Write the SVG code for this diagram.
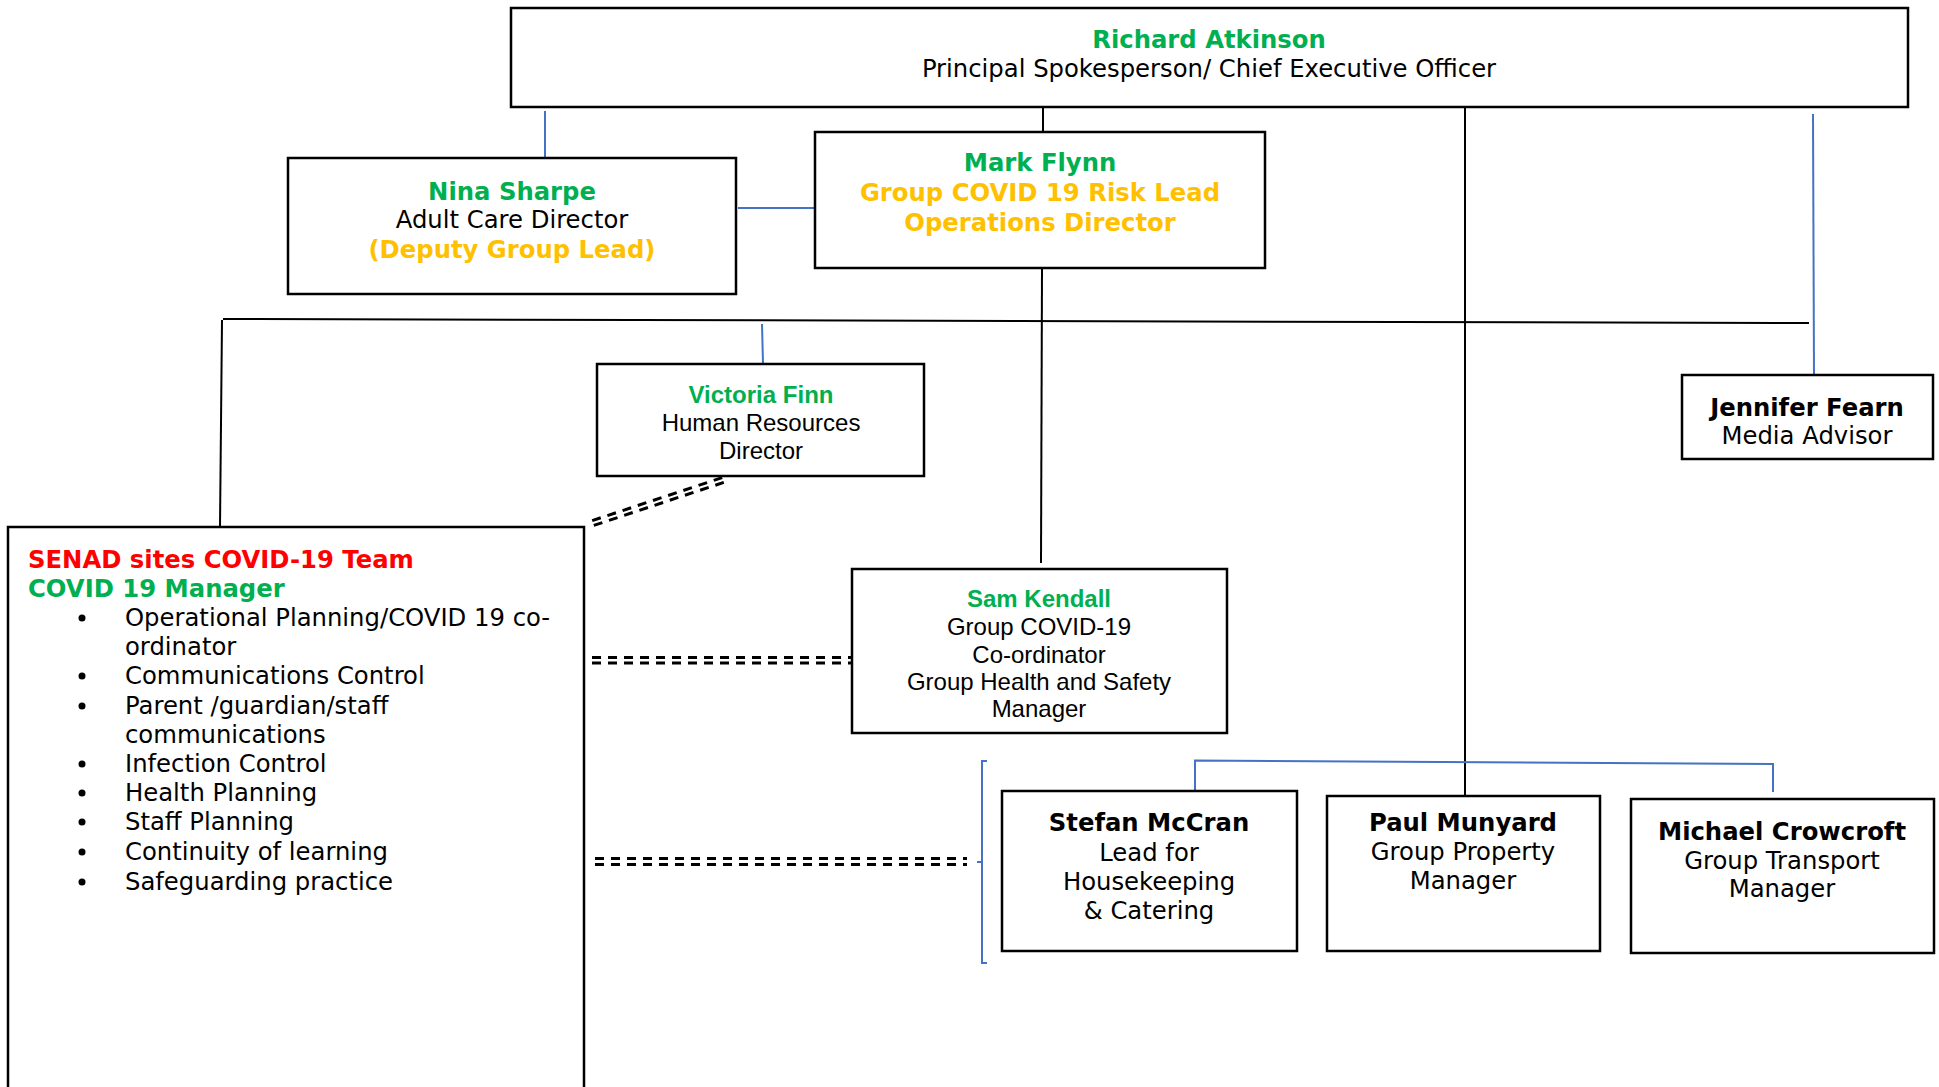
<svg xmlns="http://www.w3.org/2000/svg" width="1939" height="1087" viewBox="0 0 1939 1087">
<style>
.box{fill:#fff;stroke:#000;stroke-width:2.5}
.ln{fill:none;stroke:#000;stroke-width:2}
.bl{fill:none;stroke:#4472C4;stroke-width:2}
.dash{fill:none;stroke:#000;stroke-width:3;stroke-dasharray:9 7}
text{font-family:"DejaVu Sans","Verdana",sans-serif;font-size:24.3px;fill:#000}
.c{text-anchor:middle}
.a{font-family:"Liberation Sans",Arial,sans-serif;font-size:24px}
.b{font-weight:bold}
.g{fill:#00B050}
.o{fill:#FFC000}
.r{fill:#FF0000}
</style>
<rect width="1939" height="1087" fill="#fff"/>
<g id="connectors">
<line class="bl" x1="545" y1="111" x2="545" y2="160"/>
<line class="ln" x1="1043" y1="107" x2="1043" y2="132"/>
<line class="bl" x1="738" y1="208" x2="815" y2="208"/>
<line class="ln" x1="1042" y1="268" x2="1041" y2="563"/>
<line class="ln" x1="1465" y1="107" x2="1465" y2="796"/>
<line class="ln" x1="223" y1="319" x2="1809" y2="323"/>
<line class="ln" x1="222" y1="320" x2="220" y2="527"/>
<line class="bl" x1="762" y1="324" x2="763" y2="364"/>
<line class="bl" x1="1813" y1="114" x2="1814" y2="374"/>
<polyline class="bl" points="1195,791 1195,760.5 1773,764 1773,792"/>
<polyline class="bl" points="987,761 982,761 982,963 987,963"/>
<line class="bl" x1="977" y1="862" x2="982" y2="862"/>
<line class="dash" x1="592.2" y1="520.6" x2="722.2" y2="477.6"/>
<line class="dash" x1="593.8" y1="525.4" x2="723.8" y2="482.4"/>
<line class="dash" x1="592" y1="657.5" x2="853" y2="657.5"/>
<line class="dash" x1="592" y1="663" x2="853" y2="663"/>
<line class="dash" x1="595" y1="858.5" x2="967" y2="858.5"/>
<line class="dash" x1="595" y1="864.5" x2="967" y2="864.5"/>
</g>
<g id="richard">
<rect class="box" x="511" y="8" width="1397" height="99"/>
<text class="c b g" x="1209" y="48">Richard Atkinson</text>
<text class="c" x="1209" y="77">Principal Spokesperson/ Chief Executive Officer</text>
</g>
<g id="nina">
<rect class="box" x="288" y="158" width="448" height="136"/>
<text class="c b g" x="512" y="200">Nina Sharpe</text>
<text class="c" x="512" y="228">Adult Care Director</text>
<text class="c b o" x="512" y="258">(Deputy Group Lead)</text>
</g>
<g id="mark">
<rect class="box" x="815" y="132" width="450" height="136"/>
<text class="c b g" x="1040" y="171">Mark Flynn</text>
<text class="c b o" x="1040" y="201">Group COVID 19 Risk Lead</text>
<text class="c b o" x="1040" y="231">Operations Director</text>
</g>
<g id="victoria">
<rect class="box" x="597" y="364" width="327" height="112"/>
<text class="c a b g" x="761" y="403">Victoria Finn</text>
<text class="c a" x="761" y="431">Human Resources</text>
<text class="c a" x="761" y="459">Director</text>
</g>
<g id="jennifer">
<rect class="box" x="1682" y="375" width="251" height="84"/>
<text class="c b" x="1807" y="416">Jennifer Fearn</text>
<text class="c" x="1807" y="444">Media Advisor</text>
</g>
<g id="senad">
<rect class="box" x="8" y="527" width="576" height="600"/>
<text class="b r" x="28" y="568">SENAD sites COVID-19 Team</text>
<text class="b g" x="28" y="597">COVID 19 Manager</text>
<g>
<circle cx="82" cy="618" r="3.5"/>
<circle cx="82" cy="676" r="3.5"/>
<circle cx="82" cy="706" r="3.5"/>
<circle cx="82" cy="764" r="3.5"/>
<circle cx="82" cy="793" r="3.5"/>
<circle cx="82" cy="822" r="3.5"/>
<circle cx="82" cy="852" r="3.5"/>
<circle cx="82" cy="882" r="3.5"/>
</g>
<text x="125" y="626">Operational Planning/COVID 19 co-</text>
<text x="125" y="655">ordinator</text>
<text x="125" y="684">Communications Control</text>
<text x="125" y="714">Parent /guardian/staff</text>
<text x="125" y="743">communications</text>
<text x="125" y="772">Infection Control</text>
<text x="125" y="801">Health Planning</text>
<text x="125" y="830">Staff Planning</text>
<text x="125" y="860">Continuity of learning</text>
<text x="125" y="890">Safeguarding practice</text>
</g>
<g id="sam">
<rect class="box" x="852" y="569" width="375" height="164"/>
<text class="c a b g" x="1039" y="607">Sam Kendall</text>
<text class="c a" x="1039" y="635">Group COVID-19</text>
<text class="c a" x="1039" y="663">Co-ordinator</text>
<text class="c a" x="1039" y="690">Group Health and Safety</text>
<text class="c a" x="1039" y="717">Manager</text>
</g>
<g id="stefan">
<rect class="box" x="1002" y="791" width="295" height="160"/>
<text class="c b" x="1149" y="831">Stefan McCran</text>
<text class="c" x="1149" y="861">Lead for</text>
<text class="c" x="1149" y="890">Housekeeping</text>
<text class="c" x="1149" y="919">&amp; Catering</text>
</g>
<g id="paul">
<rect class="box" x="1327" y="796" width="273" height="155"/>
<text class="c b" x="1463" y="831">Paul Munyard</text>
<text class="c" x="1463" y="860">Group Property</text>
<text class="c" x="1463" y="889">Manager</text>
</g>
<g id="michael">
<rect class="box" x="1631" y="799" width="303" height="154"/>
<text class="c b" x="1782" y="840">Michael Crowcroft</text>
<text class="c" x="1782" y="869">Group Transport</text>
<text class="c" x="1782" y="897">Manager</text>
</g>
</svg>
